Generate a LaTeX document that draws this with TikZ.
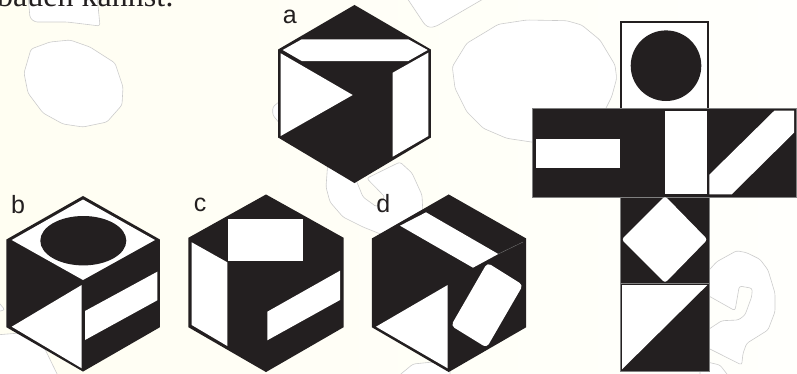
\documentclass[tikz,border=0pt]{standalone}
\usepackage{fontspec}
\setmainfont{Liberation Serif}
\setsansfont{Liberation Sans}
\usepackage{tikz}
\usepackage{xcolor}
\definecolor{ink}{HTML}{231F20}
\definecolor{paper}{HTML}{FFFEF2}
\definecolor{paperfade}{HTML}{FFFFFC}
\begin{document}
\begin{tikzpicture}[
  x=1pt, y=-1pt,
  blob/.style={fill=white, draw=black!20, line width=0.6pt, rounded corners=2.5pt},
  solid/.style={fill=ink, draw=ink, line width=1.8pt, line join=miter},
  flat/.style={fill=ink, draw=black!50, line width=0.5pt},
  hole/.style={fill=white},
  tag/.style={font=\sffamily\fontsize{25}{25}\selectfont, anchor=base, inner sep=0pt}
]
  \useasboundingbox (0,0) rectangle (797,373);
  \clip (0,0) rectangle (797,373);
  \fill[left color=paper, right color=paperfade] (0,0) rectangle (797,373);

  \draw[blob] (28,-5) -- (30,18) -- (35,22) -- (67,22) -- (100,26) -- (97,-5);
  \draw[blob] (31,49) -- (50,42) -- (70,40) -- (90,47) -- (115,63) -- (123,87) -- (122,105)
    -- (107,122) -- (83,127) -- (63,124) -- (43,113) -- (28,93) -- (24,73) -- cycle;
  \draw[blob] (405,-5) -- (425,25) -- (430,27.7) -- (436.7,26) -- (490,-5);
  \draw[blob] (452.3,66.7) -- (466.7,43.3) -- (498.3,24.3) -- (526.7,20) -- (566.7,20.7)
    -- (581.7,25) -- (600,40) -- (615,65) -- (616.7,78.3) -- (611.7,96.7) -- (600,120)
    -- (540,143.3) -- (506.7,138.3) -- (483.3,128.3) -- (466.7,111.7) -- (455,88.3) -- cycle;
  \draw[blob] (285,97) -- (272.7,107) -- (272.7,115) -- (285,130) -- cycle;
  \draw[blob] (328,160) -- (326,187) -- (330,202) -- (343,217) -- (363,227) -- (383,235)
    -- (423,215) -- (422,195) -- (412,173) -- (400,162) -- (366.7,178.3) -- (385,197)
    -- (376.7,207) -- (363,197) -- (354,175) -- cycle;
  \draw[blob] (700,280) -- (716.7,261.7) -- (736.7,250.7) -- (746.7,252.7) -- (760,259.3)
    -- (768,270) -- (775,293.3) -- (775,311.7) -- (768,330) -- (746.7,343.3) -- (743,353.3)
    -- (741.7,365) -- (700,344) -- (700,335) -- (721.7,320.7) -- (738.3,320) -- (745,315)
    -- (751.7,296.7) -- (752.3,288.3) -- (739.3,286) -- (735,310.7) -- (700,291) -- cycle;
  \draw[blob] (700,360) -- (710,362.7) -- (720,365) -- (730,378) -- (700,378) -- cycle;
  \draw[blob] (-5,335) -- (20,333) -- (43,345) -- (60,380) -- (-5,380) -- cycle;
  \draw[blob] (-5,298) -- (5,310) -- (-5,312) -- cycle;
  \draw[blob] (396,378) -- (413,364) -- (433,362) -- (450,368) -- (450,378) -- cycle;

  \node[anchor=base west, inner sep=0pt, text=ink, font=\fontsize{32}{32}\selectfont] (head)
    at (-3,6.5) {bauen kannst:};

  % cube a
  \draw[solid] (354.5,6) -- (430,50) -- (430,137) -- (354.5,182) -- (279,137) -- (279,50) -- cycle;
  \fill[hole] (301.7,39.3) -- (408.3,39.3) -- (427.7,50) -- (408.3,61) -- (301.7,61) -- (282.7,50) -- cycle;
  \fill[hole] (280.7,53.3) -- (352.7,95) -- (280.7,136) -- cycle;
  \fill[hole] (392.7,72.7) -- (428.3,52.7) -- (428.3,136) -- (392.7,156.7) -- cycle;
  \node[tag, text=ink] (a) at (289.7,23.3) {a};

  % cube b
  \draw[solid] (83,197) -- (159,240) -- (159,326.7) -- (83,370.5) -- (7.3,326.7) -- (7.3,240) -- cycle;
  \fill[hole] (83,199.5) -- (155,240) -- (83,280) -- (11.7,240) -- cycle;
  \fill[ink] (83.3,240.7) ellipse [x radius=43, y radius=24.7];
  \fill[hole] (81.7,285) -- (81.7,368.3) -- (11.7,326.7) -- cycle;
  \fill[hole] (85,311) -- (157.3,271.7) -- (157.3,300.3) -- (85,340) -- cycle;
  \node[tag, text=ink] (b) at (18,213.3) {b};

  % cube c
  \draw[solid] (266,195.5) -- (342.7,238.3) -- (342.7,326.7) -- (266,371) -- (189.3,326.7) -- (189.3,238.3) -- cycle;
  \fill[hole] (228.3,219.3) rectangle (303,260.7);
  \fill[hole] (191.7,242.3) -- (227.3,262.3) -- (227.3,346) -- (191.7,325) -- cycle;
  \fill[hole] (267.3,311.7) -- (340,270.7) -- (340,300) -- (267.3,340.3) -- cycle;
  \node[tag, text=ink] (c) at (200,211.7) {c};

  % cube d
  \draw[solid] (448.7,195.5) -- (525.3,239) -- (525.3,326.7) -- (448.7,371) -- (372.7,326.7) -- (372.7,239) -- cycle;
  \fill[hole] (426,212.3) -- (498.3,254) -- (473,267.7) -- (400,225.7) -- cycle;
  \draw[black!50, line width=0.3pt] (498.3,254) -- (523,242);
  \fill[hole] (447.7,285) -- (447.7,368.3) -- (376,326.7) -- cycle;
  \fill[hole, rounded corners=4pt] (487.3,262.7) -- (523,285) -- (486.7,347.7) -- (451,325.7) -- cycle;
  \node[tag, text=ink] (d) at (383.3,212.3) {d};

  % net
  \draw[ink, fill=white, line width=2.2pt] (621.1,22.1) rectangle (708.2,110);
  \fill[ink] (666,65.7) circle (35.3);
  \draw[flat] (532.7,108.3) rectangle (796.7,197.3);
  \draw[flat] (620,197.3) rectangle (709.3,371.7);
  \draw[black!50, line width=0.5pt] (620,283.3) -- (709.3,283.3);
  \fill[hole] (535.7,139) rectangle (619.7,167.7);
  \fill[hole] (665.3,110.7) rectangle (707,194.3);
  \fill[hole] (774.3,110.7) -- (794,110.7) -- (794,132.7) -- (731.7,194.3) -- (709.3,194.3) -- (709.3,174.7) -- cycle;
  \fill[hole, rounded corners=3pt] (665,196) -- (707.5,239.5) -- (665,283) -- (621.5,239.5) -- cycle;
  \fill[hole] (622,285) -- (707.3,285) -- (622,369.3) -- cycle;
\end{tikzpicture}
\end{document}
